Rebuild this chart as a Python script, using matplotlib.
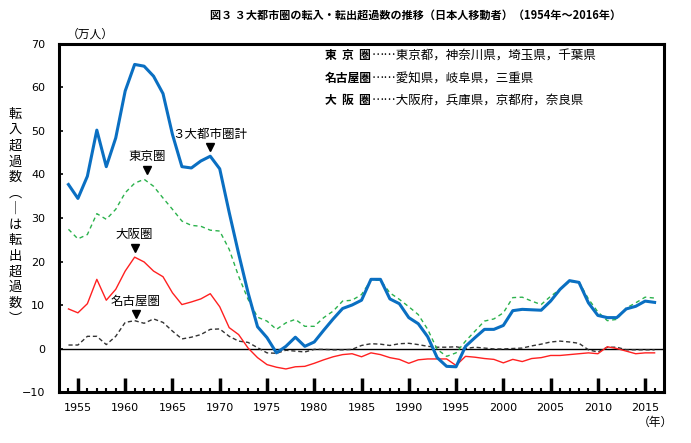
import matplotlib
matplotlib.use('Agg')
import matplotlib.pyplot as plt

plt.rcParams['font.family'] = ['Noto Sans CJK JP', 'DejaVu Sans']

# Data (万人), 1954-2016
years = list(range(1954, 2017))

total = [37.7, 34.5, 39.6, 50.2, 41.8, 48.4, 59.2, 65.3, 64.9, 62.6,
         58.6, 49.2, 41.8, 41.5, 43.1, 44.2, 41.3, 31.3, 21.8, 12.8,
         5.0, 2.5, -1.0, 0.5, 2.6, 0.5, 1.5, 4.2, 6.8, 9.2,
         10.0, 11.1, 15.9, 15.9, 11.4, 10.3, 7.1, 5.7, 2.7, -2.1,
         -4.1, -4.2, 0.5, 2.5, 4.4, 4.4, 5.3, 8.7, 9.0, 8.9,
         8.8, 10.9, 13.6, 15.6, 15.2, 10.5, 7.6, 7.1, 7.1, 9.1,
         9.7, 10.9, 10.6]

tokyo = [27.4, 25.2, 26.2, 31.0, 29.7, 32.0, 35.8, 38.0, 38.9, 37.3,
         34.6, 32.0, 29.3, 28.3, 28.1, 27.2, 27.0, 22.8, 16.6, 11.3,
         7.2, 6.3, 4.4, 5.9, 6.7, 5.1, 5.1, 7.1, 8.6, 10.9,
         11.1, 12.4, 15.7, 15.7, 12.8, 11.3, 9.6, 7.8, 4.4, -0.2,
         -1.8, -1.0, 1.7, 4.0, 6.3, 6.8, 8.2, 11.7, 11.8, 10.9,
         10.1, 12.0, 13.6, 15.4, 15.3, 11.4, 8.4, 6.4, 6.7, 9.3,
         10.5, 11.8, 11.6]

osaka = [9.1, 8.2, 10.3, 15.9, 11.1, 13.6, 17.8, 21.0, 19.9, 17.8,
         16.5, 12.8, 10.1, 10.7, 11.4, 12.6, 9.6, 4.8, 3.2, 0.1,
         -2.1, -3.7, -4.3, -4.7, -4.2, -4.1, -3.4, -2.6, -1.9, -1.4,
         -1.2, -1.9, -1.0, -1.4, -2.1, -2.5, -3.4, -2.6, -2.4, -2.4,
         -2.4, -3.9, -1.8, -2.0, -2.3, -2.5, -3.3, -2.5, -3.0, -2.3,
         -2.1, -1.6, -1.6, -1.4, -1.2, -1.0, -1.2, 0.4, 0.0, -0.6,
         -1.2, -1.0, -1.0]

nagoya = [0.8, 0.8, 2.8, 2.8, 0.9, 2.8, 6.0, 6.4, 5.8, 6.8,
          6.0, 4.0, 2.2, 2.6, 3.2, 4.4, 4.5, 2.8, 1.7, 1.4,
          0.2, -1.0, -1.1, -0.4, -0.6, -0.8, -0.2, -0.2, -0.3, -0.3,
          -0.2, 0.7, 1.1, 1.0, 0.7, 1.1, 1.2, 0.9, 0.5, 0.3,
          0.3, 0.4, 0.0, 0.3, 0.1, -0.1, -0.1, 0.0, 0.1, 0.6,
          1.0, 1.5, 1.7, 1.5, 1.2, -0.3, -0.8, 0.3, 0.3, -0.3,
          -0.3, -0.3, -0.3]

fig = plt.figure(figsize=(6.91, 4.43), dpi=100)
ax = fig.add_axes([0.0854, 0.1151, 0.8756, 0.7856])

ax.axhline(0, color='black', linewidth=1.0, zorder=1)
ax.plot(years, nagoya, color='#333333', linestyle=(0, (3, 2)), linewidth=1.0, zorder=2)
ax.plot(years, osaka, color='#ff2020', linewidth=1.0, zorder=3)
ax.plot(years, tokyo, color='#2bb24c', linestyle=(0, (3, 2.5)), linewidth=1.0, zorder=4)
ax.plot(years, total, color='#0a6fc2', linewidth=2.2, zorder=5)

ax.set_xlim(1953, 2017)
ax.set_ylim(-10, 70)
ax.set_yticks(range(-10, 71, 10))
ax.set_xticks(range(1955, 2016, 5))
ax.set_xticks(range(1954, 2017), minor=True)
ax.tick_params(axis='x', which='major', direction='in', length=10, width=2.5, labelsize=8, pad=8)
ax.tick_params(axis='x', which='minor', direction='in', length=3, width=1.5)
ax.tick_params(axis='y', which='major', direction='in', length=3, width=1.2, labelsize=8, pad=10)
for lab in ax.get_xticklabels() + ax.get_yticklabels():
    lab.set_family('DejaVu Sans')
for s in ax.spines.values():
    s.set_linewidth(2.2)

# area description box (top right)
desc_names = ['東  京  圏', '名古屋圏', '大  阪  圏']
desc_prefs = ['……東京都，神奈川県，埼玉県，千葉県',
              '……愛知県，岐阜県，三重県',
              '……大阪府，兵庫県，京都府，奈良県']
for i in range(3):
    yy = 0.966 - i * 0.064
    ax.text(0.44, yy, desc_names[i], transform=ax.transAxes, fontsize=8.5,
            fontweight='bold', va='center', ha='left')
    ax.text(0.517, yy, desc_prefs[i], transform=ax.transAxes, fontsize=9,
            va='center', ha='left')

# series labels with arrow marks
notes = [('３大都市圏計', 1969.0, 49.2, 46.4),
         ('東京圏', 1962.3, 44.1, 41.1),
         ('大阪圏', 1961.0, 26.2, 23.2),
         ('名古屋圏', 1961.15, 10.8, 8.0)]
for label, xx, ty, my in notes:
    ax.text(xx, ty, label, fontsize=9, ha='center', va='center')
    ax.plot(xx, my, marker='v', color='black', markersize=6, linestyle='none')

fig.text(0.601, 0.966, '図３ ３大都市圏の転入・転出超過数の推移（日本人移動者）（1954年～2016年）',
         ha='center', va='center', fontsize=8.0, fontweight='bold')
fig.text(0.13, 0.923, '（万人）', ha='center', va='center', fontsize=8.5)
fig.text(0.949, 0.047, '（年）', ha='center', va='center', fontsize=8.5)

ylab = '転入超過数︵｜は転出超過数︶'
fig.text(0.022, 0.51, '\n'.join(ylab), ha='center', va='center', fontsize=9.5, linespacing=1.27)

fig.savefig('out.png', dpi=100)
